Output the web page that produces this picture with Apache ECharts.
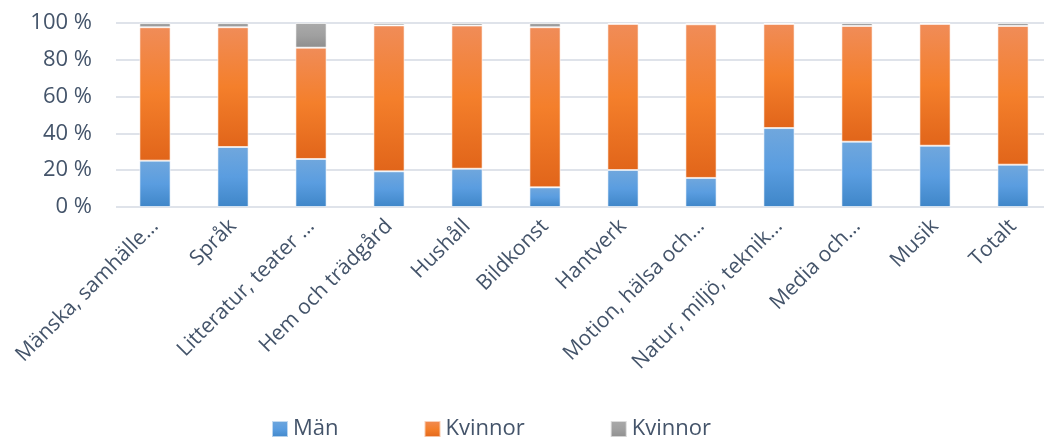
<!DOCTYPE html>
<html>
<head>
<meta charset="utf-8">
<script src="https://cdn.jsdelivr.net/npm/echarts@6/dist/echarts.min.js"></script>
<style>
  html, body { margin: 0; padding: 0; background: #fff; }
  #chart { width: 1044px; height: 437px; }
</style>
</head>
<body>
<div id="chart"></div>
<script>
// kategorier (avkortade som i originalet)
const categories = [
  'Mänska, samhälle…', 'Språk', 'Litteratur, teater …', 'Hem och trädgård',
  'Hushåll', 'Bildkonst', 'Hantverk', 'Motion, hälsa och…',
  'Natur, miljö, teknik…', 'Media och…', 'Musik', 'Totalt'
]
// andelar i procent
const man = [25.2, 32.6, 26.1, 19.4, 20.8, 10.7, 20.1, 15.8, 42.9, 35.5, 33.3, 23.0]
const kvinnor = [72.5, 65.1, 60.5, 79.3, 77.8, 87.0, 79.4, 83.5, 56.6, 62.9, 66.2, 75.4]
const ovrigt = [2.3, 2.3, 13.4, 1.3, 1.4, 2.3, 0.5, 0.7, 0.5, 1.6, 0.5, 1.6]
const yTicks = [0, 20, 40, 60, 80, 100]

const textColor = '#44546a'
const grad = (top, mid, bottom) => new echarts.graphic.LinearGradient(0, 0, 0, 1, [
  { offset: 0, color: top },
  { offset: 0.5, color: mid },
  { offset: 1, color: bottom }
])

const chart = echarts.init(document.getElementById('chart'))

const barStyle = (fill) => ({
  color: fill,
  borderColor: 'rgba(255,255,255,0.6)',
  borderWidth: 1
})

chart.setOption({
  animation: false,
  textStyle: { fontFamily: 'Open Sans' },
  grid: {
    left: 116, width: 936, top: 23, height: 184,
    containLabel: false, outerBoundsMode: 'none'
  },
  legend: {
    left: 266,
    top: 413,
    itemWidth: 16,
    itemHeight: 16,
    itemGap: 85,
    icon: 'rect',
    textStyle: { color: textColor, fontSize: 22, fontFamily: 'Open Sans' },
    data: ['Män', 'Kvinnor', 'Kvinnor ']
  },
  xAxis: {
    type: 'category',
    data: categories,
    axisLine: { show: false },
    axisTick: { show: false },
    axisLabel: {
      interval: 0,
      rotate: 45,
      color: textColor,
      fontSize: 21,
      margin: 16
    }
  },
  yAxis: {
    type: 'value',
    min: yTicks[0],
    max: yTicks[yTicks.length - 1],
    interval: 20,
    axisLine: { show: false },
    axisTick: { show: false },
    axisLabel: {
      color: textColor,
      fontSize: 22,
      margin: 24,
      formatter: '{value} %'
    },
    splitLine: { lineStyle: { color: '#dfe3ea', width: 2 } }
  },
  series: [
    {
      name: 'Män',
      type: 'bar',
      stack: 'tot',
      barWidth: '40%',
      data: man,
      itemStyle: barStyle(grad('#70a7dd', '#5a9de0', '#3f86c8'))
    },
    {
      name: 'Kvinnor',
      type: 'bar',
      stack: 'tot',
      data: kvinnor,
      itemStyle: barStyle(grad('#f08c58', '#f47f2b', '#e1651a'))
    },
    {
      name: 'Kvinnor ',
      type: 'bar',
      stack: 'tot',
      data: ovrigt,
      itemStyle: barStyle(grad('#aaaaaa', '#a0a0a0', '#8e8e8e'))
    }
  ]
})
</script>
</body>
</html>
